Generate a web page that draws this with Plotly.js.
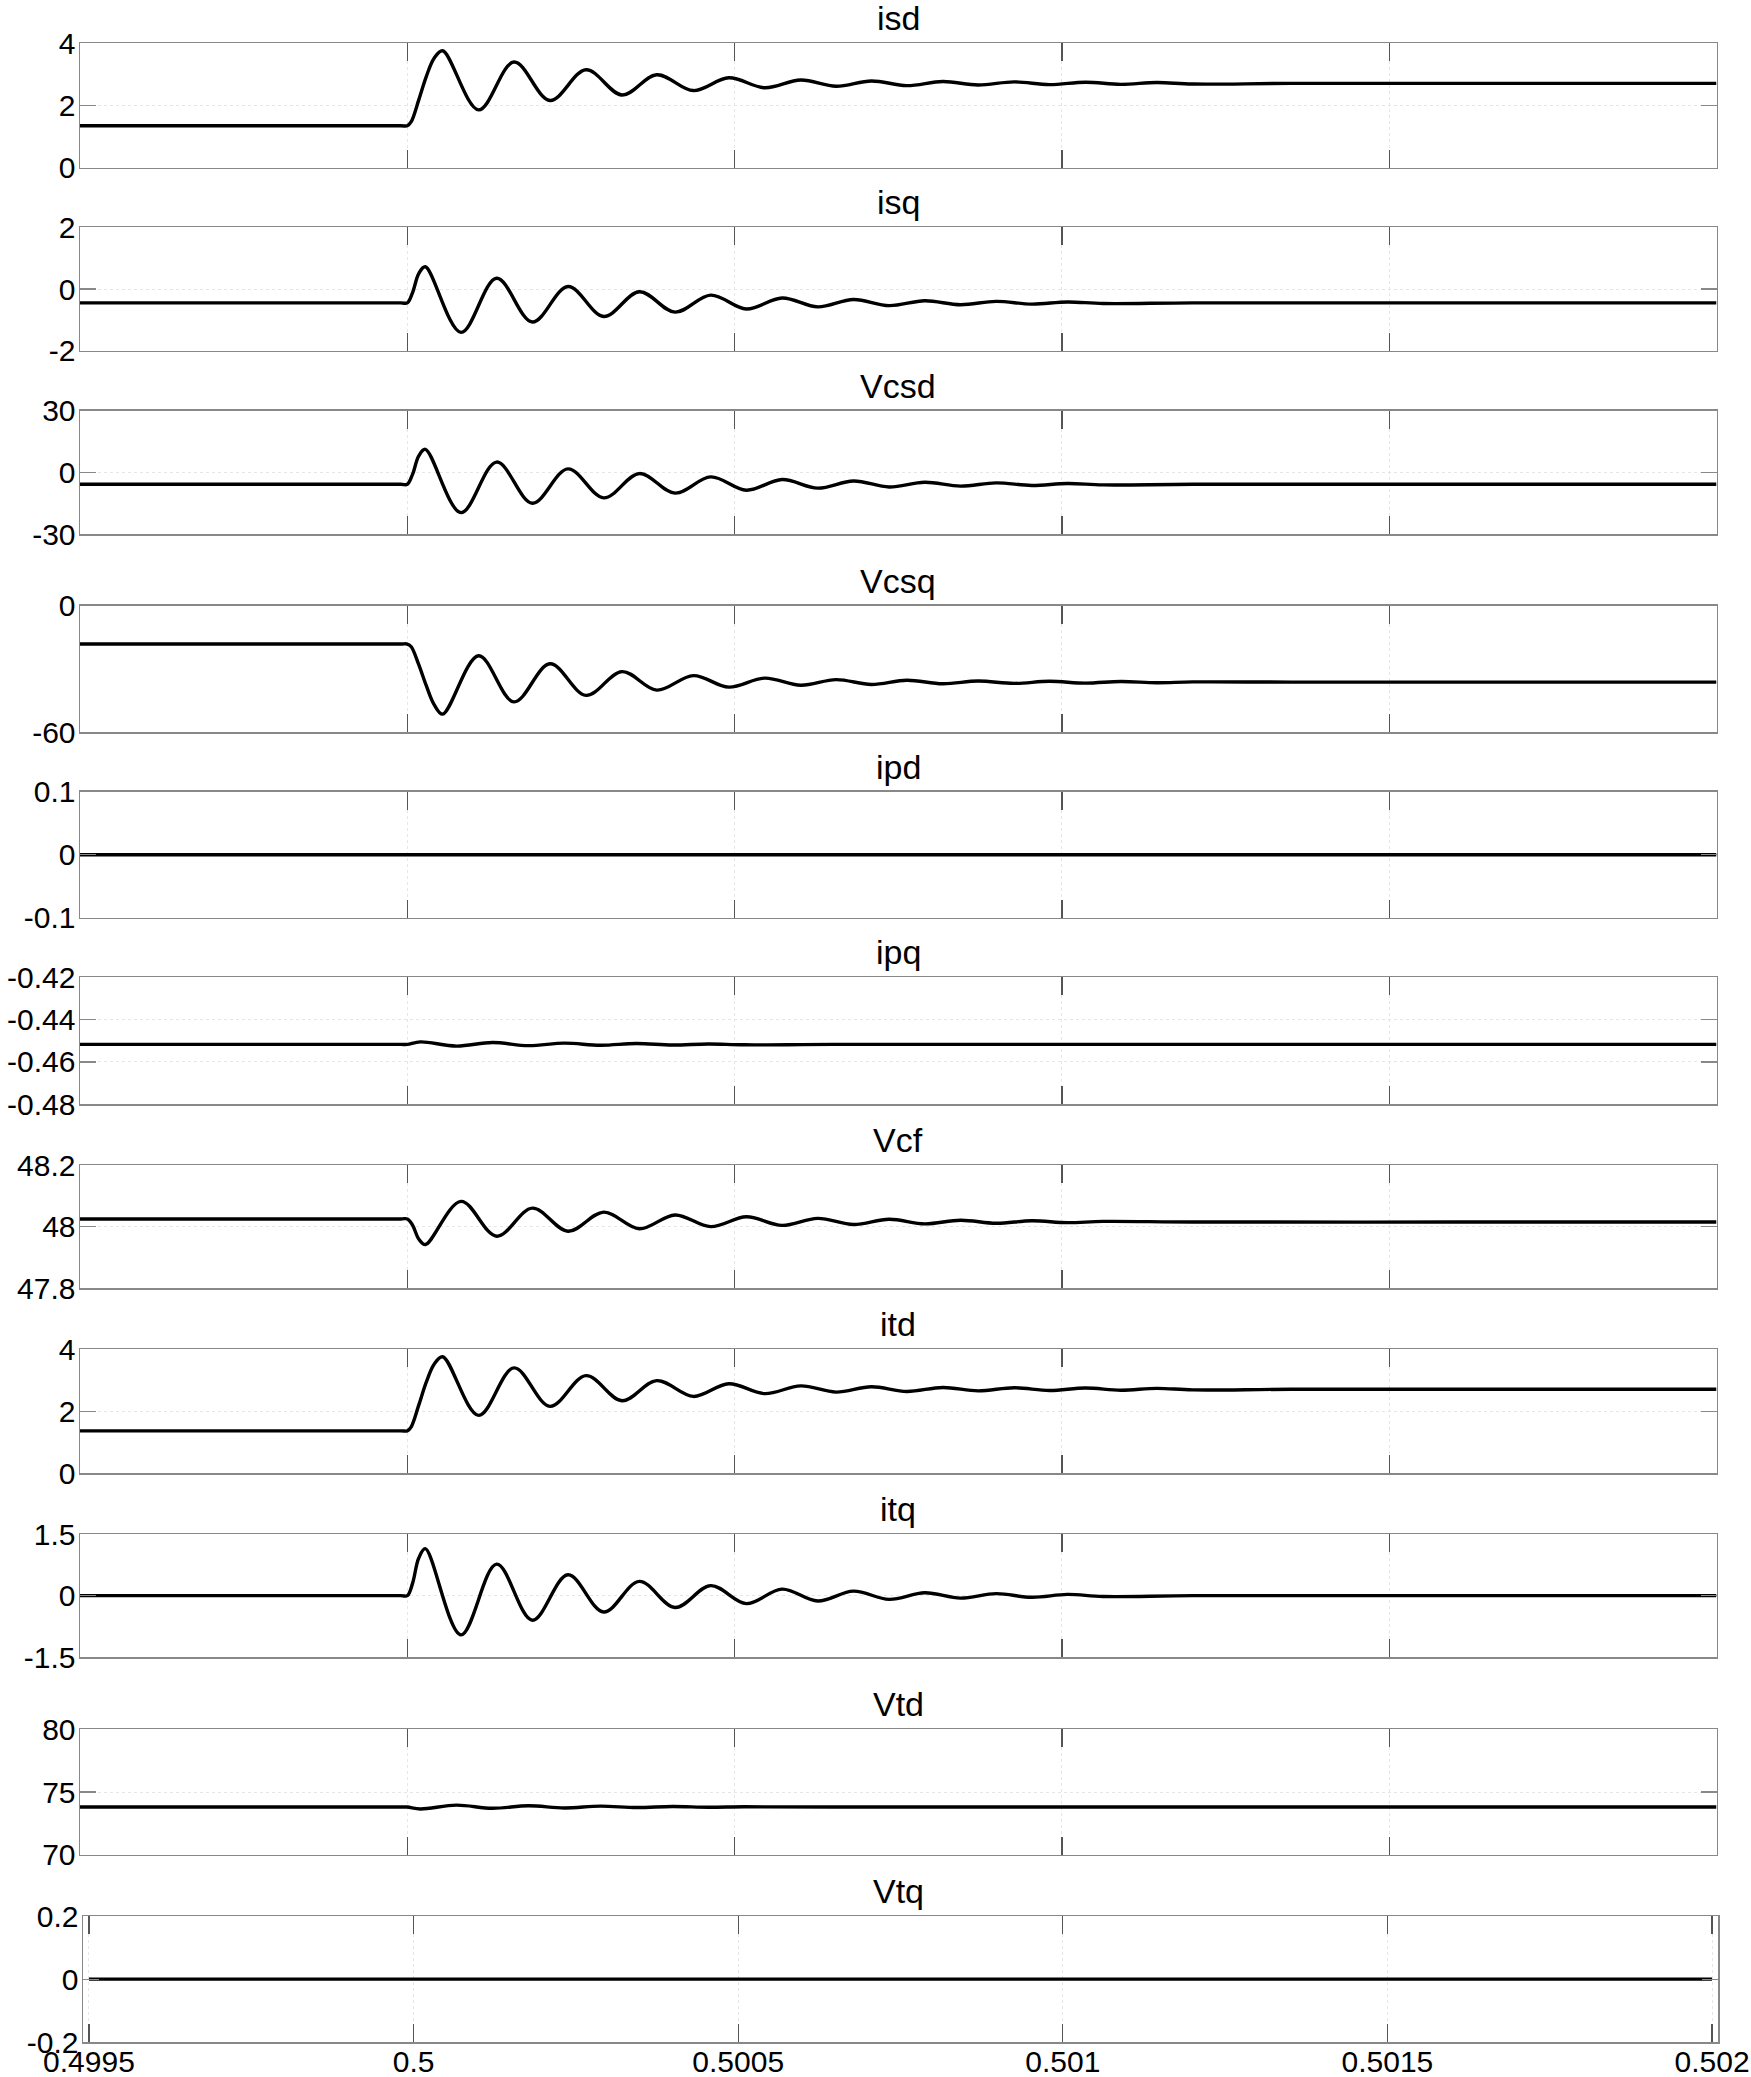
<!DOCTYPE html>
<html><head><meta charset="utf-8">
<script src="https://cdn.plot.ly/plotly-3.0.1.min.js"></script>
<style>html,body{margin:0;padding:0;background:#fff}</style>
</head><body><div id="chart" style="width:1751px;height:2077px"></div>
<script>
const W = 1751, H = 2077;

// ---- titles ----
const titles = ['isd','isq','Vcsd','Vcsq','ipd','ipq','Vcf','itd','itq','Vtd','Vtq'];

// ---- x ticks ----
const xTickVals = [0.4995, 0.5, 0.5005, 0.501, 0.5015, 0.502];
const xTickText = ['0.4995','0.5','0.5005','0.501','0.5015','0.502'];

// ---- y axes ----
const yRanges = [[0,4],[-2,2],[-30,30],[-60,0],[-0.1,0.1],[-0.48,-0.42],[47.8,48.2],[0,4],[-1.5,1.5],[70,80],[-0.2,0.2]];
const yTickVals = [[0,2,4],[-2,0,2],[-30,0,30],[-60,0],[-0.1,0,0.1],[-0.48,-0.46,-0.44,-0.42],[47.8,48,48.2],[0,2,4],[-1.5,0,1.5],[70,75,80],[-0.2,0,0.2]];
const yTickText = [['0','2','4'],['-2','0','2'],['-30','0','30'],['-60','0'],['-0.1','0','0.1'],['-0.48','-0.46','-0.44','-0.42'],['47.8','48','48.2'],['0','2','4'],['-1.5','0','1.5'],['70','75','80'],['-0.2','0','0.2']];

// ---- series ----
const t_isd = [0.4995,0.49999,0.5,0.500006,0.5000175,0.500029,0.500041,0.500054,0.500109,0.500163,0.500218,0.500273,0.500328,0.500381,0.500437,0.500491,0.500546,0.500601,0.500655,0.500709,0.500763,0.500818,0.500872,0.500927,0.500981,0.501036,0.50109,0.501145,0.5012,0.50135,0.5017,0.502];
const isd   = [1.35,1.35,1.35,1.48,2.18,2.93,3.52,3.76,1.86,3.40,2.16,3.15,2.34,2.99,2.48,2.89,2.57,2.82,2.62,2.79,2.64,2.77,2.66,2.76,2.67,2.75,2.68,2.74,2.69,2.71,2.71,2.71];

const t_isq = [0.4995,0.49999,0.5,0.500008,0.5000175,0.5000275,0.500082,0.5001365,0.500191,0.5002455,0.5003,0.5003545,0.500409,0.5004635,0.500518,0.5005725,0.500627,0.5006815,0.500736,0.5007905,0.500845,0.5008995,0.500954,0.5010085,0.501063,0.5012,0.5016,0.502];
const isq   = [-0.45,-0.45,-0.45,-0.12,0.50,0.72,-1.405,0.35,-1.07,0.08,-0.89,-0.09,-0.75,-0.20,-0.65,-0.29,-0.58,-0.34,-0.54,-0.38,-0.51,-0.40,-0.49,-0.42,-0.47,-0.45,-0.45,-0.45];

const t_vcsd = [0.4995,0.49999,0.5,0.500008,0.5000175,0.5000275,0.500082,0.5001365,0.500191,0.5002455,0.5003,0.5003545,0.500409,0.5004635,0.500518,0.5005725,0.500627,0.5006815,0.500736,0.5007905,0.500845,0.5008995,0.500954,0.5010085,0.501063,0.5012,0.5016,0.502];
const vcsd   = [-5.8,-5.8,-5.8,-1.0,8.0,11.2,-19.6,5.0,-15.0,1.7,-12.4,-0.6,-10.1,-2.2,-8.7,-3.5,-7.7,-4.2,-7.1,-4.8,-6.7,-5.1,-6.4,-5.4,-6.1,-5.8,-5.8,-5.8];

const t_vcsq = [0.4995,0.49999,0.5,0.500006,0.5000175,0.500029,0.500041,0.500054,0.500109,0.500163,0.500218,0.500273,0.500328,0.500381,0.500437,0.500491,0.500546,0.500601,0.500655,0.500709,0.500763,0.500818,0.500872,0.500927,0.500981,0.501036,0.50109,0.501145,0.5012,0.50135,0.5017,0.502];
const vcsq   = [-18.2,-18.2,-18.2,-19.5,-28.0,-38.0,-47.0,-51.5,-23.8,-45.7,-27.6,-42.6,-31.3,-40.1,-33.2,-38.7,-34.4,-37.8,-35.1,-37.4,-35.4,-37.1,-35.8,-36.9,-35.9,-36.8,-36.0,-36.6,-36.2,-36.3,-36.3,-36.3];

const t_ipd = [0.4995,0.502];
const ipd   = [0,0];

const t_ipq = [0.4995,0.49999,0.5,0.50002,0.500075,0.50013,0.500185,0.50024,0.500295,0.50035,0.500405,0.50046,0.500515,0.50065,0.5012,0.502];
const ipq   = [-0.4517,-0.4517,-0.4517,-0.4505,-0.4525,-0.4508,-0.4523,-0.4511,-0.4521,-0.4513,-0.4520,-0.4515,-0.4519,-0.4517,-0.4517,-0.4517];

const t_vcf = [0.4995,0.49999,0.5,0.500008,0.5000175,0.5000275,0.500082,0.5001365,0.500191,0.5002455,0.5003,0.5003545,0.500409,0.5004635,0.500518,0.5005725,0.500627,0.5006815,0.500736,0.5007905,0.500845,0.5008995,0.500954,0.5010085,0.501063,0.5012,0.5016,0.502];
const vcf   = [48.025,48.025,48.025,48.005,47.960,47.942,48.082,47.969,48.060,47.985,48.047,47.993,48.038,48.000,48.032,48.004,48.027,48.007,48.024,48.009,48.021,48.011,48.019,48.013,48.017,48.015,48.015,48.015];

const t_itd = [0.4995,0.49999,0.5,0.500006,0.5000175,0.500029,0.500041,0.500054,0.500109,0.500163,0.500218,0.500273,0.500328,0.500381,0.500437,0.500491,0.500546,0.500601,0.500655,0.500709,0.500763,0.500818,0.500872,0.500927,0.500981,0.501036,0.50109,0.501145,0.5012,0.50135,0.5017,0.502];
const itd   = [1.37,1.37,1.37,1.50,2.20,2.94,3.52,3.76,1.87,3.40,2.16,3.15,2.34,2.99,2.48,2.89,2.57,2.82,2.62,2.79,2.64,2.77,2.66,2.76,2.67,2.75,2.68,2.74,2.69,2.71,2.71,2.71];

const t_itq = [0.4995,0.49999,0.5,0.500008,0.5000175,0.5000275,0.500082,0.5001365,0.500191,0.5002455,0.5003,0.5003545,0.500409,0.5004635,0.500518,0.5005725,0.500627,0.5006815,0.500736,0.5007905,0.500845,0.5008995,0.500954,0.5010085,0.501063,0.5012,0.5016,0.502];
const itq   = [0,0,0,0.30,0.92,1.15,-0.96,0.77,-0.60,0.51,-0.40,0.35,-0.29,0.245,-0.195,0.16,-0.13,0.11,-0.09,0.07,-0.06,0.05,-0.04,0.03,-0.02,0,0,0];

const t_vtd = [0.4995,0.49999,0.5,0.50002,0.500075,0.50013,0.500185,0.50024,0.500295,0.50035,0.500405,0.50046,0.500515,0.50065,0.5012,0.502];
const vtd   = [73.8,73.8,73.8,73.65,73.95,73.7,73.9,73.73,73.87,73.76,73.84,73.78,73.82,73.8,73.8,73.8];

const t_vtq = [0.4995,0.502];
const vtq   = [0,0];

const seriesT = [t_isd,t_isq,t_vcsd,t_vcsq,t_ipd,t_ipq,t_vcf,t_itd,t_itq,t_vtd,t_vtq];
const seriesY = [isd,isq,vcsd,vcsq,ipd,ipq,vcf,itd,itq,vtd,vtq];

// ---- panel geometry (pixels) ----
const panelTop    = [43.3,227.3,410.7,605.7,791.7,977.3,1165,1349.3,1534.3,1729.3,1916.3];
const panelBottom = [167.7,350.7,534,732,917.7,1104.3,1288.3,1473.3,1657,1854.7,2042];

const FONT = 'Liberation Sans, Arial, sans-serif';
const traces = [];
const layout = {
  width: W, height: H,
  margin: {l:0, r:0, t:0, b:0, pad:0},
  paper_bgcolor: '#ffffff', plot_bgcolor: '#ffffff',
  showlegend: false,
  font: {family: FONT, size: 30, color: '#000'},
  annotations: []
};

const fx = px => px / W;
const fy = py => 1 - py / H;

for (let i = 0; i < 11; i++) {
  const n = i + 1;
  const sfx = (n === 1 ? '' : String(n));
  const last = (i === 10);
  const left = last ? 83 : 80, right = last ? 1718 : 1716.5;
  const xr = last ? [0.4994908, 0.5020092] : [0.4995, 0.502];
  traces.push({
    x: seriesT[i], y: seriesY[i],
    xaxis: 'x' + sfx, yaxis: 'y' + sfx,
    type: 'scatter', mode: 'lines',
    line: {color: '#000', width: 3.4, shape: 'spline', smoothing: 1},
    hoverinfo: 'skip'
  });
  layout['xaxis' + sfx] = {
    domain: [fx(left), fx(right)], range: xr,
    anchor: 'y' + sfx,
    tickmode: 'array', tickvals: xTickVals, ticktext: xTickText,
    showticklabels: last, ticks: 'inside', ticklen: 18, tickwidth: 1.2, tickcolor: '#555',
    showline: true, linecolor: '#888', linewidth: 1.5, mirror: 'ticks',
    showgrid: true, gridcolor: '#e6e6e6', gridwidth: 1, griddash: 'dot',
    zeroline: false, fixedrange: true,
    tickfont: {size: 30, color: '#000', family: FONT},
    ticklabelstandoff: -8
  };
  layout['yaxis' + sfx] = {
    domain: [fy(panelBottom[i]), fy(panelTop[i])], range: yRanges[i],
    anchor: 'x' + sfx,
    tickmode: 'array', tickvals: yTickVals[i], ticktext: yTickText[i],
    ticks: 'inside', ticklen: 16, tickwidth: 1.2, tickcolor: '#888',
    showline: true, linecolor: '#888', linewidth: 1.5, mirror: 'ticks',
    showgrid: true, gridcolor: '#e6e6e6', gridwidth: 1, griddash: 'dot',
    zeroline: false, fixedrange: true,
    tickfont: {size: 30, color: '#000', family: FONT},
    ticklabelstandoff: -3
  };
  layout.annotations.push({
    text: titles[i], xref: 'paper', yref: 'paper',
    x: fx(898), y: fy(panelTop[i] - 25), xanchor: 'center', yanchor: 'middle',
    showarrow: false, font: {size: 34, color: '#000', family: FONT}
  });
}

Plotly.newPlot('chart', traces, layout, {staticPlot: true, displayModeBar: false});
</script>
</body></html>
